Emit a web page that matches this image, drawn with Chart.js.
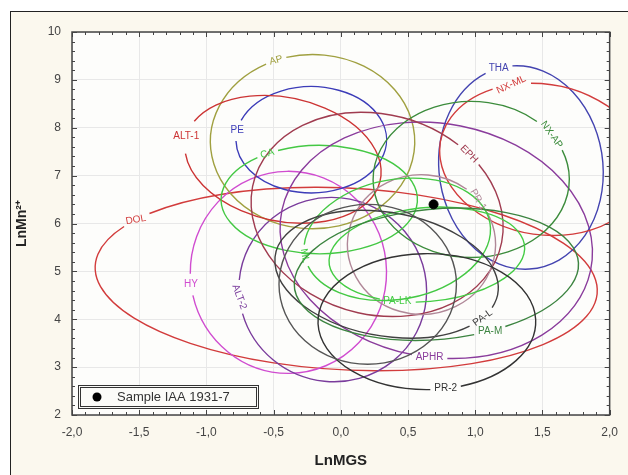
<!DOCTYPE html>
<html>
<head>
<meta charset="utf-8">
<script src="https://cdn.jsdelivr.net/npm/chart.js@4.4.1/dist/chart.umd.min.js"></script>
<style>
  html, body { margin: 0; padding: 0; background: #ffffff; overflow: hidden; }
  #frame { position: absolute; left: 10px; top: 11px; width: 617px; height: 463px; background: #fbf8ee; border-left: 1px solid #222; border-top: 1px solid #222; }
  #wrap { position: absolute; left: 0; top: 0; width: 628px; height: 475px; }
</style>
</head>
<body>
<div id="frame"></div>
<div id="wrap"><canvas id="chart"></canvas></div>
<script>
// ellipse fields, one entry per mineral group
const groupNames = ["DOL", "HY", "ALT-2", "AP", "PE", "ALT-1", "CA", "APHR", "THA", "NX-ML",
  "NX-AP", "EPH", "PR-1", "PA-LK", "ML", "PA-L", "PA-M", "PR-2", ""];
const centerX = [0.04, -0.39, -0.06, -0.21, -0.22, -0.43, -0.16, 0.71, 1.34, 1.50,
  0.97, 0.27, 0.60, 0.64, 0.42, 0.34, 0.71, 0.64, 0.20];
const centerY = [4.84, 4.98, 4.62, 7.71, 7.75, 7.34, 6.50, 5.65, 7.17, 7.34,
  6.92, 6.19, 5.56, 5.35, 5.67, 4.94, 4.94, 3.95, 4.73];
const semiX = [1.87, 0.73, 0.70, 0.76, 0.56, 0.74, 0.73, 1.17, 0.61, 0.77,
  0.73, 0.95, 0.55, 0.73, 0.70, 0.84, 1.06, 0.81, 0.66];
const semiY = [1.90, 2.11, 1.92, 1.82, 1.11, 1.29, 1.13, 2.44, 2.13, 1.57,
  1.63, 2.09, 1.46, 0.98, 1.25, 1.29, 1.36, 1.42, 1.67];
const tilt = [-3, 0, -20, 0, 0, -12, 0, -10, 7, -10,
  0, -15, 0, 5, 10, -10, 5, 0, 0];
const labelAt = [148, 187, 205, 111, 170, 178, 122, 275, 97, 115,
  35, 55, 40, 250, 180, 335, 290, 280, 0];
const labelTurn = [10, 0, -70, 15, 0, 0, 15, 0, 0, 25,
  -55, -45, -60, 0, -80, 35, 0, 0, 0];
const groupColors = ["#d23c3c", "#d04cd0", "#7a3c9c", "#a0a040", "#3c3cb8", "#cc3434", "#44c844", "#8a3c9c", "#4444b0", "#d23c3c",
  "#3c8c3c", "#a03c50", "#b08898", "#44cc44", "#44c844", "#404040", "#3c8440", "#333333", "#555555"];

const sampleX = [0.69];
const sampleY = [6.4];
const sampleLabel = "Sample IAA 1931-7";

const xTicks = [-2, -1.5, -1, -0.5, 0, 0.5, 1, 1.5, 2];
const yTicks = [2, 3, 4, 5, 6, 7, 8, 9, 10];

const labelFont = "10px 'Liberation Sans', Arial, sans-serif";

const ellipsePlugin = {
  id: "ellipses",
  beforeDraw(chart) {
    const { ctx, chartArea: ca } = chart;
    ctx.save();
    ctx.fillStyle = "#fdfdfb";
    ctx.fillRect(ca.left, ca.top, ca.width, ca.height);
    ctx.restore();
  },
  beforeDatasetsDraw(chart) {
    const { ctx, chartArea: ca, scales: { x, y } } = chart;
    const kx = x.getPixelForValue(1) - x.getPixelForValue(0);
    const ky = y.getPixelForValue(0) - y.getPixelForValue(1);
    ctx.save();
    ctx.beginPath();
    ctx.rect(ca.left, ca.top, ca.width, ca.height);
    ctx.clip();
    ctx.font = labelFont;
    ctx.lineWidth = 1.4;
    const spots = [];
    groupNames.forEach((name, i) => {
      const cx = x.getPixelForValue(centerX[i]);
      const cy = y.getPixelForValue(centerY[i]);
      const a = semiX[i] * kx;
      const b = semiY[i] * ky;
      const th = tilt[i] * Math.PI / 180;
      const t = labelAt[i] * Math.PI / 180;
      let gap = 0;
      if (name) {
        const w = ctx.measureText(name).width;
        const speed = Math.hypot(a * Math.sin(t), b * Math.cos(t));
        gap = (w / 2 + 4) / speed;
      }
      ctx.save();
      ctx.translate(cx, cy);
      ctx.rotate(-th);
      ctx.beginPath();
      ctx.ellipse(0, 0, a, b, 0, -t + gap, -t - gap + 2 * Math.PI);
      ctx.restore();
      ctx.strokeStyle = groupColors[i];
      ctx.stroke();
      if (name) {
        const u = a * Math.cos(t), v = b * Math.sin(t);
        spots.push({
          name, color: groupColors[i], turn: labelTurn[i],
          x: cx + u * Math.cos(th) - v * Math.sin(th),
          y: cy - (u * Math.sin(th) + v * Math.cos(th)),
        });
      }
    });
    ctx.textAlign = "center";
    ctx.textBaseline = "middle";
    spots.forEach((s) => {
      ctx.save();
      ctx.translate(s.x, s.y);
      ctx.rotate(-s.turn * Math.PI / 180);
      ctx.fillStyle = s.color;
      ctx.fillText(s.name, 0, 0);
      ctx.restore();
    });
    ctx.restore();
  },
  afterDatasetsDraw(chart) {
    const { ctx, chartArea: ca, scales: { x, y } } = chart;
    ctx.save();
    ctx.strokeStyle = "#444";
    ctx.lineWidth = 1.5;
    ctx.strokeRect(ca.left, ca.top, ca.width, ca.height);
    ctx.lineWidth = 1;
    ctx.beginPath();
    // small inward ticks on all four sides
    for (let v = -20; v <= 20; v++) {
      const px = Math.round(x.getPixelForValue(v / 10)) + 0.5;
      const len = v % 5 === 0 ? 5 : 3;
      ctx.moveTo(px, ca.bottom); ctx.lineTo(px, ca.bottom - len);
      ctx.moveTo(px, ca.top); ctx.lineTo(px, ca.top + len);
    }
    for (let v = 10; v <= 50; v++) {
      const py = Math.round(y.getPixelForValue(v / 5)) + 0.5;
      const len = v % 5 === 0 ? 5 : 3;
      ctx.moveTo(ca.left, py); ctx.lineTo(ca.left + len, py);
      ctx.moveTo(ca.right, py); ctx.lineTo(ca.right - len, py);
    }
    ctx.stroke();
    ctx.restore();
  },
  afterDraw(chart) {
    const { ctx } = chart;
    const bx = 78, by = 385, bw = 180, bh = 23;
    ctx.save();
    ctx.fillStyle = "#fbfbf8";
    ctx.fillRect(bx, by, bw, bh);
    ctx.strokeStyle = "#333";
    ctx.lineWidth = 1;
    ctx.strokeRect(bx + 0.5, by + 0.5, bw, bh);
    ctx.strokeRect(bx + 2.5, by + 2.5, bw - 4, bh - 4);
    ctx.fillStyle = "#000";
    ctx.beginPath();
    ctx.arc(bx + 19, by + 12, 4.5, 0, 2 * Math.PI);
    ctx.fill();
    ctx.fillStyle = "#333";
    ctx.font = "13px 'Liberation Sans', Arial, sans-serif";
    ctx.textBaseline = "middle";
    ctx.fillText(sampleLabel, bx + 39, by + 12.5);
    ctx.restore();
  },
};

const tickFont = { family: "'Liberation Sans', Arial, sans-serif", size: 12 };

new Chart(document.getElementById("chart"), {
  type: "scatter",
  data: {
    datasets: [
      {
        label: sampleLabel,
        data: sampleX.map((v, i) => ({ x: v, y: sampleY[i] })),
        backgroundColor: "#000",
        borderColor: "#000",
        pointRadius: 4.5,
      },
    ],
  },
  options: {
    responsive: true,
    maintainAspectRatio: false,
    animation: false,
    layout: { padding: { left: 10, top: 32, right: 11, bottom: 0 } },
    plugins: {
      legend: { display: false },
      tooltip: { enabled: false },
    },
    scales: {
      x: {
        type: "linear",
        min: -2,
        max: 2,
        afterBuildTicks: (s) => { s.ticks = xTicks.map((v) => ({ value: v })); },
        afterFit: (s) => { s.height = 60; },
        ticks: {
          autoSkip: false,
          maxRotation: 0,
          padding: 10,
          color: "#444",
          font: tickFont,
          callback: (v) => v.toFixed(1).replace(".", ","),
        },
        grid: { color: "#e8e8e8", drawTicks: false },
        border: { display: false },
        title: {
          display: true,
          text: "LnMGS",
          color: "#222",
          font: { family: "'Liberation Sans', Arial, sans-serif", size: 15, weight: "bold" },
          padding: { top: 0, bottom: 5 },
        },
      },
      y: {
        type: "linear",
        min: 2,
        max: 10,
        afterBuildTicks: (s) => { s.ticks = yTicks.map((v) => ({ value: v })); },
        afterFit: (s) => { s.width = 62; },
        ticks: {
          padding: 11,
          color: "#444",
          font: tickFont,
        },
        grid: { color: "#e8e8e8", drawTicks: false },
        border: { display: false },
        title: {
          display: true,
          text: "LnMn²⁺",
          color: "#222",
          font: { family: "'Liberation Sans', Arial, sans-serif", size: 14, weight: "bold" },
          padding: { top: 4, bottom: 0 },
        },
      },
    },
  },
  plugins: [ellipsePlugin],
});
</script>
</body>
</html>
